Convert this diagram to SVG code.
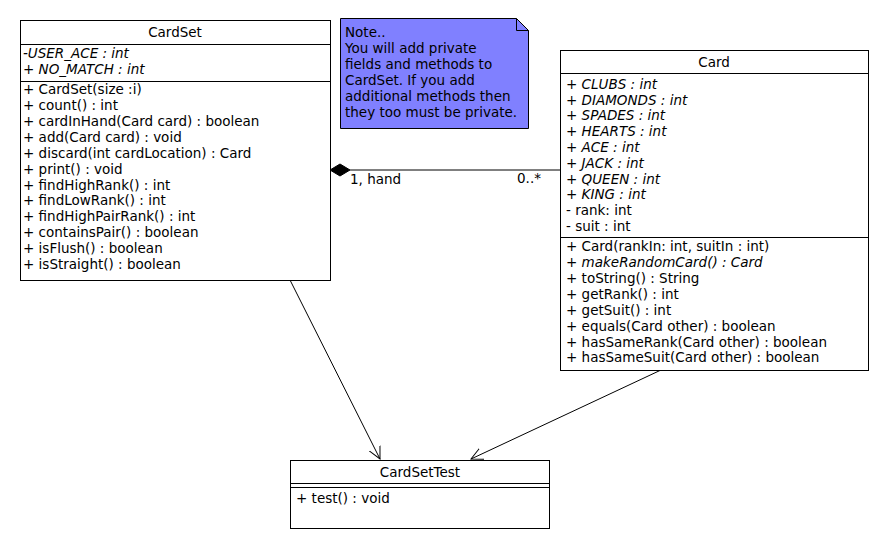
<svg xmlns="http://www.w3.org/2000/svg" width="890" height="550" viewBox="0 0 890 550">
<style>
.box{fill:#fff;stroke:#000;stroke-width:1}
.t{font-family:"DejaVu Sans",sans-serif;font-size:13.5px;fill:#000}
.i{font-style:italic}
.c{text-anchor:middle}
.ln{stroke:#000;stroke-width:1;fill:none}
</style>
<defs>
<marker id="open" markerWidth="14" markerHeight="14" refX="12" refY="7" orient="auto" markerUnits="userSpaceOnUse">
<path d="M0,1 L12,7 L0,13" fill="none" stroke="#000" stroke-width="1"/>
</marker>
</defs>
<rect width="890" height="550" fill="#fff"/>
<g id="connectors">
<line class="ln" x1="350" y1="170" x2="560" y2="170"/>
<path d="M330,170 L340,164 L350,170 L340,176 Z" fill="#000" stroke="#000"/>
<text class="t" x="350" y="184">1, hand</text>
<text class="t" x="517" y="183">0..*</text>
<line class="ln" x1="290" y1="280" x2="380" y2="459" marker-end="url(#open)"/>
<line class="ln" x1="661" y1="370" x2="471" y2="459" marker-end="url(#open)"/>
</g>
<g id="CardSet">
<rect class="box" x="20.5" y="20.5" width="310" height="260"/>
<line class="ln" x1="20" y1="44.5" x2="330" y2="44.5"/>
<line class="ln" x1="20" y1="81.5" x2="330" y2="81.5"/>
<text class="t c" x="175" y="37">CardSet</text>
<text class="t i" x="23" y="58">-USER_ACE : int</text>
<text class="t i" x="23" y="74">+ NO_MATCH : int</text>
<text class="t" x="23" y="94">+ CardSet(size :i)</text>
<text class="t" x="23" y="110">+ count() : int</text>
<text class="t" x="23" y="126">+ cardInHand(Card card) : boolean</text>
<text class="t" x="23" y="142">+ add(Card card) : void</text>
<text class="t" x="23" y="158">+ discard(int cardLocation) : Card</text>
<text class="t" x="23" y="174">+ print() : void</text>
<text class="t" x="23" y="190">+ findHighRank() : int</text>
<text class="t" x="23" y="205">+ findLowRank() : int</text>
<text class="t" x="23" y="221">+ findHighPairRank() : int</text>
<text class="t" x="23" y="237">+ containsPair() : boolean</text>
<text class="t" x="23" y="253">+ isFlush() : boolean</text>
<text class="t" x="23" y="269">+ isStraight() : boolean</text>
</g>
<g id="Note">
<path d="M340.5,18.5 H516.5 L528.5,30.5 V128.5 H340.5 Z" fill="#8080ff" stroke="#000"/>
<path d="M516.5,18.5 V30.5 H528.5" fill="none" stroke="#000"/>
<text class="t" x="345" y="37">Note..</text>
<text class="t" x="345" y="53">You will add private</text>
<text class="t" x="345" y="69">fields and methods to</text>
<text class="t" x="345" y="85">CardSet. If you add</text>
<text class="t" x="345" y="101">additional methods then</text>
<text class="t" x="345" y="117">they too must be private.</text>
</g>
<g id="Card">
<rect class="box" x="560.5" y="50.5" width="308" height="320"/>
<line class="ln" x1="560" y1="73.5" x2="868" y2="73.5"/>
<line class="ln" x1="560" y1="237.5" x2="868" y2="237.5"/>
<text class="t c" x="714" y="67">Card</text>
<text class="t i" x="566" y="89">+ CLUBS : int</text>
<text class="t i" x="566" y="105">+ DIAMONDS : int</text>
<text class="t i" x="566" y="120">+ SPADES : int</text>
<text class="t i" x="566" y="136">+ HEARTS : int</text>
<text class="t i" x="566" y="152">+ ACE : int</text>
<text class="t i" x="566" y="168">+ JACK : int</text>
<text class="t i" x="566" y="184">+ QUEEN : int</text>
<text class="t i" x="566" y="199">+ KING : int</text>
<text class="t" x="566" y="215">- rank: int</text>
<text class="t" x="566" y="231">- suit : int</text>
<text class="t" x="566" y="251">+ Card(rankIn: int, suitIn : int)</text>
<text class="t i" x="566" y="267">+ makeRandomCard() : Card</text>
<text class="t" x="566" y="283">+ toString() : String</text>
<text class="t" x="566" y="299">+ getRank() : int</text>
<text class="t" x="566" y="315">+ getSuit() : int</text>
<text class="t" x="566" y="331">+ equals(Card other) : boolean</text>
<text class="t" x="566" y="347">+ hasSameRank(Card other) : boolean</text>
<text class="t" x="566" y="362">+ hasSameSuit(Card other) : boolean</text>
</g>
<g id="CardSetTest">
<rect class="box" x="290.5" y="460.5" width="259" height="68"/>
<line class="ln" x1="290" y1="483.5" x2="549" y2="483.5"/>
<line class="ln" x1="290" y1="487.5" x2="549" y2="487.5"/>
<text class="t c" x="420" y="477">CardSetTest</text>
<text class="t" x="296" y="503">+ test() : void</text>
</g>
</svg>
